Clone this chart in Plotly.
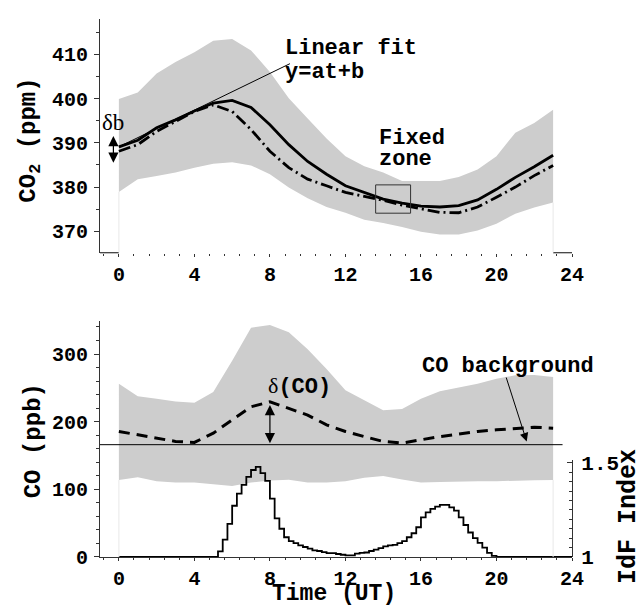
import plotly.graph_objects as go

# ---------------- data ----------------
hours = list(range(24))

co2_upper = [399.9, 401.4, 405.7, 408.3, 410.5, 413.1, 413.5, 410.9, 406.0, 400.1, 395.5, 391.0,
             387.0, 384.7, 383.3, 381.4, 381.4, 381.4, 382.3, 384.0, 387.0, 392.3, 394.5, 397.5]
co2_lower = [378.9, 381.8, 382.5, 383.3, 384.4, 385.3, 385.6, 384.9, 382.9, 379.9, 377.5, 375.5,
             374.2, 372.6, 371.9, 371.0, 369.9, 369.3, 369.3, 370.2, 371.7, 374.0, 375.4, 376.5]
co2_solid = [389.1, 390.6, 393.4, 395.2, 397.2, 399.0, 399.6, 398.0, 394.1, 389.6, 385.8, 382.9,
             380.3, 378.8, 377.3, 376.4, 375.7, 375.5, 375.8, 377.1, 379.5, 382.2, 384.6, 387.2]
co2_dashdot = [388.1, 389.6, 392.6, 394.9, 397.1, 398.6, 397.1, 393.0, 388.1, 384.4, 381.8, 380.3,
               378.8, 377.9, 377.0, 375.9, 375.1, 374.3, 374.2, 375.5, 377.7, 380.0, 382.6, 384.9]

fit_t = [0.0, 9.06]
fit_y = [389.1, 407.9]

co_upper = [256, 237.7, 234, 230, 228, 244, 290, 339, 343, 332, 307, 278,
            246.5, 232, 217, 218.7, 234, 245, 251, 256, 263.5, 268.5, 269, 266]
co_lower = [113.8, 118, 112, 110, 110, 107, 105, 110, 113, 114, 110, 110,
            112, 117, 119.6, 114.7, 110, 111, 112, 112, 112, 113, 113.5, 113.8]
co_mean = [185.5, 180.6, 175.7, 170.8, 169.4, 183, 202.6, 222, 229.4, 219.6, 209.8, 195.3,
           185.5, 178, 170.8, 168.4, 173.3, 178, 181.6, 185.5, 188, 190.4, 191.8, 190.4]
co_background = 166

# IdF index histogram (15-min bins); bin left edges and values
idf_edges = [0.0] + [5.25 + 0.25 * i for i in range(60)] + [20.0, 24.0]
idf_values = [1.0,
              1.030, 1.092, 1.176, 1.272, 1.337, 1.383, 1.425, 1.462, 1.478, 1.445,
              1.404, 1.310, 1.205, 1.150, 1.105, 1.084, 1.074, 1.062, 1.053, 1.044,
              1.035, 1.032, 1.026, 1.021, 1.021, 1.016, 1.012, 1.009, 1.009, 1.018,
              1.022, 1.024, 1.032, 1.039, 1.047, 1.056, 1.062, 1.064, 1.074, 1.084,
              1.105, 1.126, 1.158, 1.210, 1.237, 1.255, 1.267, 1.277, 1.277, 1.263,
              1.246, 1.210, 1.170, 1.130, 1.100, 1.075, 1.050, 1.022, 1.006, 1.000,
              1.0, 1.0]

x_ticks = [0, 4, 8, 12, 16, 20, 24]

# ---------------- styles ----------------
MONO = "Courier New, Liberation Mono, monospace"
BAND = "#cdcdcd"
AX = "#333333"

fig = go.Figure()

# top panel
fig.add_trace(go.Scatter(x=hours, y=co2_lower, mode="lines", line=dict(width=0, color=BAND),
                         showlegend=False, hoverinfo="skip", xaxis="x", yaxis="y"))
fig.add_trace(go.Scatter(x=hours, y=co2_upper, mode="lines", line=dict(width=0, color=BAND),
                         fill="tonexty", fillcolor=BAND, showlegend=False, hoverinfo="skip",
                         xaxis="x", yaxis="y"))
fig.add_trace(go.Scatter(x=hours, y=co2_dashdot, mode="lines",
                         line=dict(color="black", width=2.8, dash="12px,4px,2px,4px"),
                         showlegend=False, xaxis="x", yaxis="y"))
fig.add_trace(go.Scatter(x=hours, y=co2_solid, mode="lines",
                         line=dict(color="black", width=2.8),
                         showlegend=False, xaxis="x", yaxis="y"))
fig.add_trace(go.Scatter(x=fit_t, y=fit_y, mode="lines",
                         line=dict(color="black", width=1),
                         showlegend=False, xaxis="x", yaxis="y"))

# bottom panel
fig.add_trace(go.Scatter(x=hours, y=co_lower, mode="lines", line=dict(width=0, color=BAND),
                         showlegend=False, hoverinfo="skip", xaxis="x2", yaxis="y2"))
fig.add_trace(go.Scatter(x=hours, y=co_upper, mode="lines", line=dict(width=0, color=BAND),
                         fill="tonexty", fillcolor=BAND, showlegend=False, hoverinfo="skip",
                         xaxis="x2", yaxis="y2"))
fig.add_trace(go.Scatter(x=hours, y=co_mean, mode="lines",
                         line=dict(color="black", width=3, dash="11px,7px"),
                         showlegend=False, xaxis="x2", yaxis="y2"))
fig.add_trace(go.Scatter(x=idf_edges, y=idf_values, mode="lines", line_shape="hv",
                         line=dict(color="black", width=1.8),
                         showlegend=False, xaxis="x2", yaxis="y3"))

tickfont = dict(family=MONO, size=20, color="black", weight="bold")

common_x = dict(range=[-1, 24], tickvals=x_ticks, ticks="outside", ticklen=3, tickwidth=1,
                tickcolor=AX, showgrid=False, zeroline=False, tickfont=tickfont,
                minor=dict(dtick=0.8, tick0=0, ticks="outside", ticklen=2, tickcolor=AX),
                domain=[0, 1])

fig.update_layout(
    width=644, height=608,
    margin=dict(l=100, r=72, t=13, b=51),
    paper_bgcolor="white", plot_bgcolor="rgba(0,0,0,0)",
    showlegend=False,
    xaxis=dict(anchor="y", showline=False, **common_x),
    yaxis=dict(domain=[0.5656, 1.0], range=[365.17, 418.0], anchor="x",
               tick0=370, dtick=10, ticks="outside", ticklen=5, tickcolor=AX,
               showline=True, linecolor=AX, linewidth=1.2, showgrid=False, zeroline=False,
               tickfont=tickfont, ticklabelstandoff=2,
               minor=dict(dtick=5, tick0=370, ticks="outside", ticklen=3, tickcolor=AX)),
    xaxis2=dict(anchor="y2", showline=True, linecolor=AX, linewidth=1.2, **common_x),
    yaxis2=dict(domain=[0, 0.4388], range=[0, 348.9], anchor="x2",
                tick0=0, dtick=100, ticks="outside", ticklen=5, tickcolor=AX,
                showline=True, linecolor=AX, linewidth=1.2, showgrid=False, zeroline=False,
                tickfont=tickfont, ticklabelstandoff=2,
                minor=dict(dtick=20, tick0=0, ticks="outside", ticklen=3, tickcolor=AX)),
    yaxis3=dict(domain=[0, 0.1796], range=[1.0, 1.513], anchor="x2", side="right",
                tickvals=[1, 1.5], ticktext=["1", "1.5"], ticks="inside", ticklen=5,
                tickcolor=AX, showline=True, linecolor=AX, linewidth=1.2, showgrid=False,
                zeroline=False, ticklabelstandoff=4,
                tickfont=dict(family=MONO, size=21, color="black", weight="bold"),
                minor=dict(dtick=0.05, tick0=1, ticks="inside", ticklen=3, tickcolor=AX)),
)

shapes = [
    # visible end segments of the top time axis
    dict(type="line", xref="x", yref="y domain", x0=-1, x1=0, y0=0, y1=0,
         line=dict(color=AX, width=1.2)),
    dict(type="line", xref="x", yref="y domain", x0=23, x1=24, y0=0, y1=0,
         line=dict(color=AX, width=1.2)),
    # faint band edges down to the axes
    dict(type="line", xref="x", yref="y", x0=0, x1=0, y0=365.17, y1=co2_lower[0],
         line=dict(color="#e8e8e8", width=1)),
    dict(type="line", xref="x", yref="y", x0=23, x1=23, y0=365.17, y1=co2_lower[-1],
         line=dict(color="#e8e8e8", width=1)),
    dict(type="line", xref="x2", yref="y2", x0=0, x1=0, y0=0, y1=co_lower[0],
         line=dict(color="#e8e8e8", width=1)),
    dict(type="line", xref="x2", yref="y2", x0=23, x1=23, y0=0, y1=co_lower[-1],
         line=dict(color="#e8e8e8", width=1)),
    # fixed zone box
    dict(type="rect", xref="x", yref="y", x0=13.6, x1=15.45, y0=374.1, y1=380.5,
         line=dict(color=AX, width=1)),
    # CO background level
    dict(type="line", xref="x2", yref="y2", x0=-1, x1=23.5, y0=co_background, y1=co_background,
         line=dict(color="black", width=1)),
]
fig.update_layout(shapes=shapes)

lab = dict(family=MONO, size=22, color="black", weight="bold")
title_font = dict(family=MONO, size=24, color="black", weight="bold")
ann = [
    # axis titles
    dict(text="CO<sub>2</sub> (ppm)", xref="paper", yref="paper", x=-0.1483, y=0.7739,
         xanchor="center", yanchor="middle", textangle=-90, showarrow=False, font=title_font),
    dict(text="CO (ppb)", xref="paper", yref="paper", x=-0.142, y=0.2169,
         xanchor="center", yanchor="middle", textangle=-90, showarrow=False, font=title_font),
    dict(text="Time (UT)", xref="paper", yref="paper", x=0.4958, y=-0.068,
         xanchor="center", yanchor="middle", showarrow=False,
         font=dict(family=MONO, size=23, color="black", weight="bold")),
    dict(text="IdF Index", xref="paper", yref="paper", x=1.12, y=0.0754,
         xanchor="center", yanchor="middle", textangle=-90, showarrow=False,
         font=dict(family=MONO, size=25, color="black", weight="bold")),
    # labels
    dict(text="Linear fit", xref="x", yref="y", x=8.69, y=411.3, xanchor="left", yanchor="middle",
         showarrow=False, font=lab),
    dict(text="y=at+b", xref="x", yref="y", x=8.69, y=406.0, xanchor="left", yanchor="middle",
         showarrow=False, font=lab),
    dict(text="Fixed", xref="x", yref="y", x=13.69, y=391.1, xanchor="left", yanchor="middle",
         showarrow=False, font=lab),
    dict(text="zone", xref="x", yref="y", x=13.69, y=386.3, xanchor="left", yanchor="middle",
         showarrow=False, font=lab),
    dict(text="δb", xref="x", yref="y", x=-0.29, y=394.5, xanchor="center", yanchor="middle",
         showarrow=False,
         font=dict(family="Liberation Serif, Times New Roman, serif", size=23, color="black")),
    dict(text="δ<span style='font-family:Courier New, Liberation Mono, monospace;font-weight:bold'>(CO)</span>",
         xref="x2", yref="y2", x=7.78, y=251.3, xanchor="left", yanchor="middle", showarrow=False,
         font=dict(family="Liberation Serif, Times New Roman, serif", size=22, color="black")),
    dict(text="CO background", xref="x2", yref="y2", x=15.95, y=282, xanchor="left",
         yanchor="middle", showarrow=False, font=lab),
    # arrows
    dict(text="", xref="x", yref="y", axref="x", ayref="y", x=-0.29, y=385.5, ax=-0.29, ay=391.9,
         showarrow=True, arrowhead=2, arrowside="end+start", arrowsize=1.7, arrowwidth=1.2,
         arrowcolor="black"),
    dict(text="", xref="x2", yref="y2", axref="x2", ayref="y2", x=8.0, y=168.3, ax=8.0, ay=226.8,
         showarrow=True, arrowhead=2, arrowside="end+start", arrowsize=1.7, arrowwidth=1.2,
         arrowcolor="black"),
    dict(text="", xref="x2", yref="y2", axref="x2", ayref="y2", x=21.6, y=170.8, ax=20.49, ay=267.5,
         showarrow=True, arrowhead=2, arrowsize=1.7, arrowwidth=1, arrowcolor="black"),
]
fig.update_layout(annotations=ann)

fig.write_html("out.html")
